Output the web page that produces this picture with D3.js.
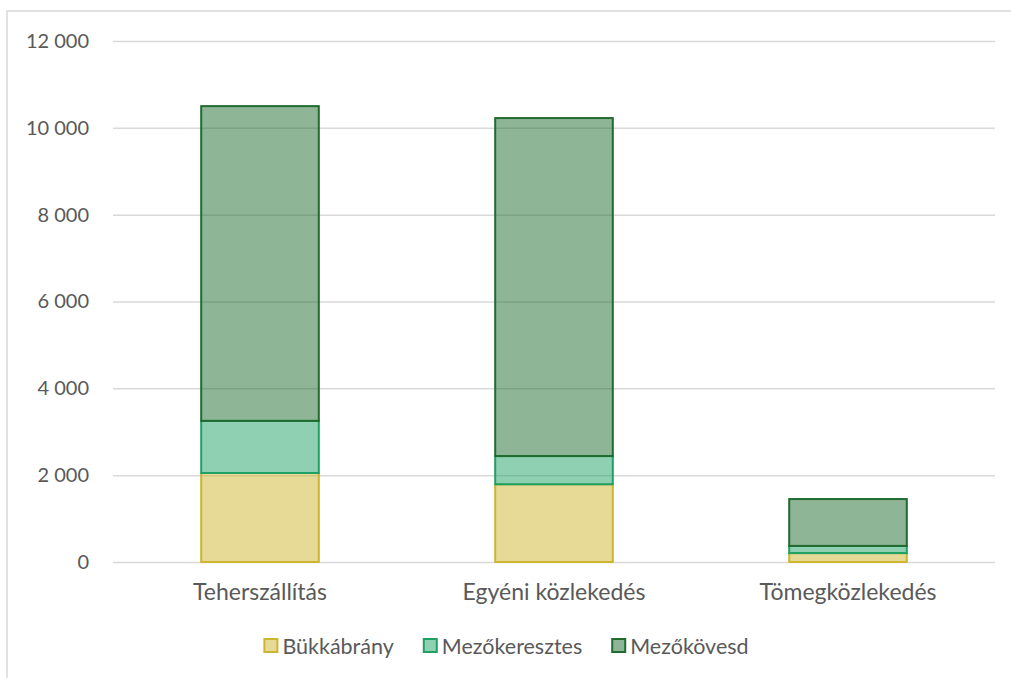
<!DOCTYPE html>
<html>
<head>
<meta charset="utf-8">
<script src="https://cdn.jsdelivr.net/npm/d3@7"></script>
<style>
  body { margin: 0; background: #fff; }
  text { font-family: Lato, "Open Sans", sans-serif; fill: #595959; }
</style>
</head>
<body>
<svg id="chart"></svg>
<script>
// Adatok
const categories = ['Teherszállítás', 'Egyéni közlekedés', 'Tömegközlekedés'];
const seriesNames = ['Bükkábrány', 'Mezőkeresztes', 'Mezőkövesd'];
const bukkabrany = [2050, 1790, 205];
const mezokeresztes = [1200, 650, 165];
const mezokovesd = [7250, 7785, 1080];
const yTicks = [0, 2000, 4000, 6000, 8000, 10000, 12000];

const colors = ['#cdb62e', '#1fa165', '#206b30'];

const width = 1011;
const height = 678;

const svg = d3.select('#chart')
    .attr('width', width)
    .attr('height', height);

// keret
svg.append('rect')
    .attr('x', 7).attr('y', 11)
    .attr('width', width).attr('height', height)
    .attr('fill', 'none')
    .attr('stroke', '#d9d9d9')
    .attr('stroke-width', 1.5);

const plotLeft = 113, plotRight = 995, plotTop = 41, plotBottom = 562;

const x = d3.scaleBand()
    .domain(categories)
    .range([plotLeft, plotRight])
    .paddingInner(0.6)
    .paddingOuter(0.3);

const y = d3.scaleLinear()
    .domain([0, 12000])
    .range([plotBottom, plotTop]);

const loc = d3.formatLocale({decimal: ',', thousands: '\u00a0', grouping: [3], currency: ['', ' Ft']});
const fmt = loc.format(',d');

const rows = categories.map((c, i) => ({
    cat: c,
    'Bükkábrány': bukkabrany[i],
    'Mezőkeresztes': mezokeresztes[i],
    'Mezőkövesd': mezokovesd[i]
}));

const stacked = d3.stack().keys(seriesNames)(rows);

// y tengely
const yAxis = svg.append('g')
    .attr('transform', `translate(${plotLeft},0)`)
    .call(d3.axisLeft(y).tickValues(yTicks).tickFormat(fmt).tickSize(-(plotRight - plotLeft)).tickPadding(24));
yAxis.select('.domain').remove();
yAxis.selectAll('.tick line').attr('stroke', '#d9d9d9').attr('stroke-width', 1.5);
yAxis.selectAll('.tick text')
    .attr('font-size', 20)
    .attr('font-family', 'Lato, "Open Sans", sans-serif')
    .attr('fill', '#595959');

// oszlopok
svg.append('g').selectAll('g')
    .data(stacked)
    .enter()
    .append('g')
    .attr('fill', (d, i) => colors[i])
    .attr('stroke', (d, i) => colors[i])
    .selectAll('rect')
    .data(d => d)
    .enter()
    .append('rect')
    .attr('x', d => x(d.data.cat))
    .attr('y', d => y(d[1]))
    .attr('width', x.bandwidth())
    .attr('height', d => y(d[0]) - y(d[1]))
    .attr('fill-opacity', 0.5)
    .attr('stroke-width', 2);

// x tengely
const xAxis = svg.append('g')
    .attr('transform', `translate(0,${plotBottom})`)
    .call(d3.axisBottom(x).tickSize(0).tickPadding(22));
xAxis.select('.domain').remove();
xAxis.selectAll('.tick text')
    .attr('font-size', 23)
    .attr('font-family', 'Lato, "Open Sans", sans-serif')
    .attr('fill', '#595959');

// jelmagyarázat
const legend = svg.append('g');
let lx = 0;
seriesNames.forEach((name, i) => {
    const item = legend.append('g').attr('transform', `translate(${lx},0)`);
    item.append('rect')
        .attr('x', 1).attr('y', -7)
        .attr('width', 13).attr('height', 13)
        .attr('fill', colors[i]).attr('fill-opacity', 0.5)
        .attr('stroke', colors[i]).attr('stroke-width', 2);
    const t = item.append('text')
        .attr('x', 19).attr('y', 7.5)
        .attr('font-size', 21.5)
        .text(name);
    lx += 19 + t.node().getComputedTextLength() + 29;
});
const legendWidth = lx - 29;
legend.attr('transform', `translate(${506 - legendWidth / 2},646)`);
</script>
</body>
</html>
